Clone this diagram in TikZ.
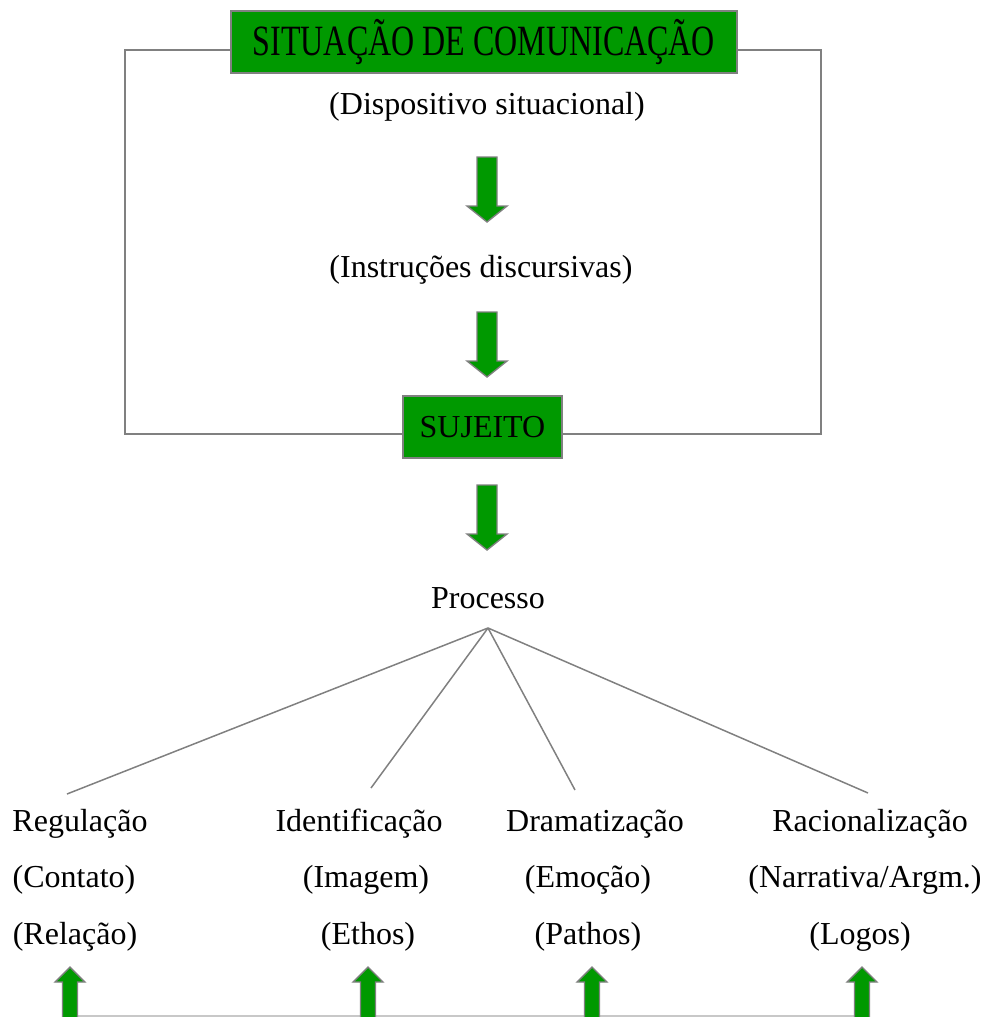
\documentclass[tikz,border=0pt]{standalone}
\usepackage{fontspec}
\setmainfont{Liberation Serif}
\usetikzlibrary{calc}
\definecolor{boxgreen}{RGB}{0,153,0}
\definecolor{linegray}{RGB}{128,128,128}
\definecolor{lightgray}{RGB}{200,200,200}
\tikzset{
  txt/.style={inner sep=0pt, anchor=base, font=\fontsize{32}{38}\selectfont},
  greenbox/.style={draw=linegray, line width=1.5pt, fill=boxgreen, inner sep=0pt, font=\fontsize{32}{38}\selectfont},
  frameline/.style={draw=linegray, line width=1.5pt},
  branch/.style={draw=linegray, line width=1.5pt},
  blockarrow/.style={draw=linegray, fill=boxgreen, line width=1.4pt, line join=miter},
}
\newcommand{\downarrowblk}[3]{% x, top y, tip y
  \draw[blockarrow] (#1-10,#2) -- (#1+10,#2) -- (#1+10,#3-16) -- (#1+20,#3-16) -- (#1,#3) -- (#1-20,#3-16) -- (#1-10,#3-16) -- cycle;}
\newcommand{\uparrowblk}[3]{% x, tip y, bottom y
  \draw[blockarrow] (#1-7.5,#3) -- (#1-7.5,#2+15) -- (#1-15,#2+15) -- (#1,#2) -- (#1+15,#2+15) -- (#1+7.5,#2+15) -- (#1+7.5,#3);}
\begin{document}
\begin{tikzpicture}[x=1pt,y=-1pt]
\useasboundingbox (0,0) rectangle (987,1017);
% top box and subject box
\node[greenbox, minimum width=506pt, minimum height=62pt] (top) at (484,42) {\raisebox{-2pt}{\scalebox{1}[1.35]{SITUAÇÃO DE COMUNICAÇÃO}}};
\node[greenbox, minimum width=159pt, minimum height=62pt] (suj) at (482.5,427) {SUJEITO};
% frame
\coordinate (tl) at (125,50);
\coordinate (tr) at (821,50);
\coordinate (bl) at (125,434);
\coordinate (br) at (821,434);
\draw[frameline] (top.west |- tl) -- (tl) -- (bl) -- (suj.west |- bl);
\draw[frameline] (top.east |- tr) -- (tr) -- (br) -- (suj.east |- br);
% texts
\node[txt] (disp) at (487,114) {(Dispositivo situacional)};
\node[txt] (instr) at (481,277) {(Instruções discursivas)};
\node[txt] (proc) at (488,608) {Processo};
% down arrows
\downarrowblk{487}{157}{222}
\downarrowblk{487}{312}{377}
\downarrowblk{487}{485}{550}
% branches
\coordinate (apex) at (488,628);
\coordinate (e1) at (67,794);
\coordinate (e2) at (371,788);
\coordinate (e3) at (575,790);
\coordinate (e4) at (868,793);
\draw[branch] (apex) -- (e1);
\draw[branch] (apex) -- (e2);
\draw[branch] (apex) -- (e3);
\draw[branch] (apex) -- (e4);
% bottom labels
\node[txt] (reg) at (80,831) {Regulação};
\node[txt] (cont) at (74,887) {(Contato)};
\node[txt] (rel) at (75,944) {(Relação)};
\node[txt] (ide) at (359,831) {Identificação};
\node[txt] (ima) at (366,887) {(Imagem)};
\node[txt] (eth) at (368,944) {(Ethos)};
\node[txt] (dra) at (595,831) {Dramatização};
\node[txt] (emo) at (588,887) {(Emoção)};
\node[txt] (pat) at (588,944) {(Pathos)};
\node[txt] (rac) at (870,831) {Racionalização};
\node[txt] (nar) at (865,887) {(Narrativa/Argm.)};
\node[txt] (log) at (860,944) {(Logos)};
% bottom line and up arrows
\coordinate (b1) at (70,1016);
\coordinate (b4) at (862,1016);
\draw[draw=lightgray, line width=1.5pt] (b1) -- (b4);
\uparrowblk{70}{967}{1018}
\uparrowblk{368}{967}{1018}
\uparrowblk{592}{967}{1018}
\uparrowblk{862}{967}{1018}
\end{tikzpicture}
\end{document}
